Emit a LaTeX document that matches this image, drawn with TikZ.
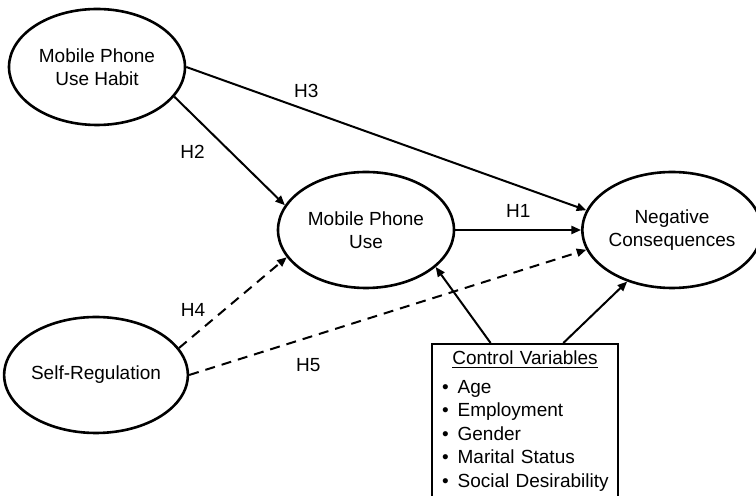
\documentclass[tikz,border=0pt]{standalone}
\usepackage{fontspec}
\setmainfont{Liberation Sans}
\usetikzlibrary{shapes.geometric,arrows.meta,calc}
\newcommand{\ctrlitem}[1]{\mbox{\textbullet\hspace{4.5pt}#1}}

\begin{document}
\begin{tikzpicture}[
    x=0.5pt, y=-0.5pt,
    font=\fontsize{9.5}{11.5}\selectfont,
    >={Triangle[length=4.8pt,width=4pt]},
    construct/.style={ellipse, draw, line width=1.3pt, minimum width=88pt, minimum height=58pt, inner sep=0pt, align=center},
    hyp/.style={->, line width=1pt},
    weak hyp/.style={hyp, dash pattern=on 5pt off 3.5pt},
    lbl/.style={inner sep=0pt}
    ]
\useasboundingbox (0,0) rectangle (756,496);
% constructs
\node[construct] (habit) at (97,67) {Mobile Phone\\Use Habit};
\node[construct] (use) at (366,230) {Mobile Phone\\Use};
\node[construct, minimum width=80pt] (neg) at (672,230) {Negative\\Consequences};
\node[construct] (selfreg) at (96,375) {Self-Regulation};
% control variables
\node[draw, line width=1pt, anchor=north, text width=83pt, inner xsep=5pt, inner ysep=3.5pt] (ctrl) at (525,343) {%
{\fontsize{9.5}{11.75}\selectfont\hbadness=10000\hfuzz=20pt
{\centering\underline{Control Variables}\par}
\vspace{2.5pt}
\raggedright
\ctrlitem{Age}\\
\ctrlitem{Employment}\\
\ctrlitem{Gender}\\
\ctrlitem{Marital Status}\\
\ctrlitem{Social Desirability}\rule[-6pt]{0pt}{6pt}\par}};
% hypotheses
\path (habit.-21.5) edge[hyp] node[lbl, pos=0.51, left=12.5pt] {H2} (use.163.5);
\path (habit.east) edge[hyp] node[lbl, pos=0.3, above=5.5pt] {H3} (neg.167.2);
\path (use.east) edge[hyp] node[lbl, pos=0.5, above=5.5pt] {H1} (neg.west);
\path (selfreg.18.4) edge[weak hyp] node[lbl, pos=0.42, left=9pt] {H4} (use.-161);
\path (selfreg.east) edge[weak hyp] node[lbl, pos=0.3, below=10pt] {H5} (neg.-167.5);
% controls
\path ($(ctrl.north west)!0.317!(ctrl.north east)$) edge[hyp] (use.-28.8);
\path ($(ctrl.north west)!0.704!(ctrl.north east)$) edge[hyp] (neg.-131.3);
\end{tikzpicture}
\end{document}
